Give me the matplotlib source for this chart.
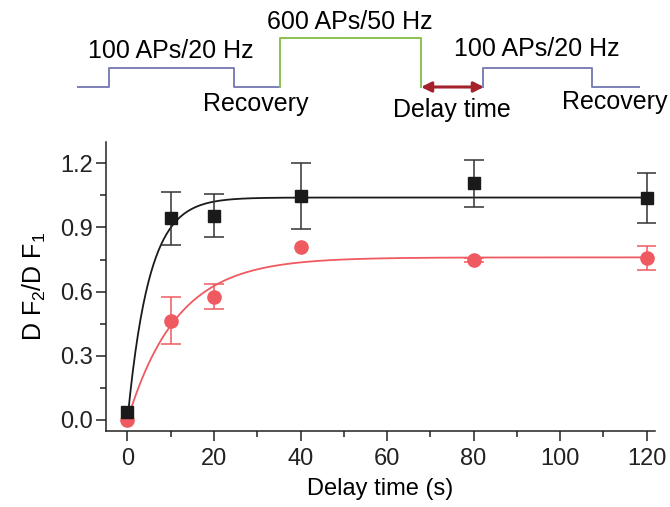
import numpy as np
import matplotlib
matplotlib.use("Agg")
import matplotlib.pyplot as plt

plt.rcParams['font.family'] = ['Liberation Sans', 'DejaVu Sans']
plt.rcParams['mathtext.fontset'] = 'custom'
plt.rcParams['mathtext.rm'] = 'Liberation Sans'
plt.rcParams['mathtext.it'] = 'Liberation Sans'

# data
delay = [0, 10, 20, 40, 80, 120]
black_y = [0.038, 0.943, 0.955, 1.048, 1.106, 1.040]
black_err = [0.0, 0.125, 0.100, 0.155, 0.110, 0.117]
red_y = [0.0, 0.463, 0.576, 0.807, 0.748, 0.758]
red_err = [0.0, 0.110, 0.058, 0.0, 0.008, 0.056]

# single exponential fits: A * (1 - exp(-t / tau))
black_amp, black_tau = 1.04, 5.0
red_amp, red_tau = 0.76, 11.5

xticks = [0, 20, 40, 60, 80, 100, 120]
yticks = [0.0, 0.3, 0.6, 0.9, 1.2]

# stimulus schematic (pixel coords of the figure)
pulse1_x = [78, 109, 109, 234, 234, 280]
pulse1_y = [87, 87, 68, 68, 87, 87]
pulse2_x = [280, 280, 421, 421]
pulse2_y = [87, 38, 38, 87]
pulse3_x = [483, 483, 592, 592, 639]
pulse3_y = [87, 68, 68, 87, 87]
labels = [("100 APs/20 Hz", 171, 51), ("600 APs/50 Hz", 350, 22),
          ("Recovery", 256, 104), ("Delay time", 452, 110),
          ("100 APs/20 Hz", 537, 49), ("Recovery", 615, 102)]

red = '#EF5A61'
blue = '#7C80B6'
green = '#8CC152'
darkred = '#A3222B'


def with_err(x, y, e):
    # only points that have a visible error bar
    keep = [i for i in range(len(x)) if e[i] > 0]
    return [x[i] for i in keep], [y[i] for i in keep], [e[i] for i in keep]


fig = plt.figure(figsize=(6.7, 5.07), dpi=100)

# schematic on top
top = fig.add_axes([0, 0, 1, 1])
top.set_xlim(0, 670)
top.set_ylim(507, 0)
top.axis('off')
top.plot(pulse1_x, pulse1_y, color=blue, lw=1.4)
top.plot(pulse2_x, pulse2_y, color=green, lw=1.4)
top.plot(pulse3_x, pulse3_y, color=blue, lw=1.4)
top.annotate('', xy=(421, 87), xytext=(484, 87),
             arrowprops=dict(arrowstyle='<|-|>', color=darkred, lw=2.2,
                             mutation_scale=15, shrinkA=0, shrinkB=0))
for txt, x, y in labels:
    top.text(x, y, txt, ha='center', va='center', fontsize=18)

ax = fig.add_axes([0.158, 0.150, 0.820, 0.570])
t = np.linspace(0, 120, 600)
ax.plot(t, black_amp * (1 - np.exp(-t / black_tau)), color='#1a1a1a', lw=1.3)
ax.plot(t, red_amp * (1 - np.exp(-t / red_tau)), color=red, lw=1.3)

bx, by, be = with_err(delay, black_y, black_err)
ax.errorbar(bx, by, yerr=be, fmt='none', ecolor='#333333', elinewidth=1.1,
            capsize=7, capthick=1.1, zorder=3)
rx, ry, re_ = with_err(delay, red_y, red_err)
ax.errorbar(rx, ry, yerr=re_, fmt='none', ecolor=red, elinewidth=1.1,
            capsize=7, capthick=1.1, zorder=3)
ax.plot(delay, red_y, 'o', color=red, markersize=9.5, zorder=4)
ax.plot(delay, black_y, 's', color='#1a1a1a', markersize=8, zorder=5)

ax.set_xlim(-5, 122)
ax.set_ylim(-0.052, 1.30)
ax.set_xticks(xticks)
ax.set_yticks(yticks)
ax.set_yticklabels([f'{v:.1f}' for v in yticks])
ax.set_xticks([10, 30, 50, 70, 90, 110], minor=True)
ax.set_yticks([0.15, 0.45, 0.75, 1.05], minor=True)
ax.spines['top'].set_visible(False)
ax.spines['right'].set_visible(False)
for s in ['left', 'bottom']:
    ax.spines[s].set_linewidth(1.1)
    ax.spines[s].set_color('#222222')
ax.tick_params(which='major', direction='out', length=7, width=1.1,
               labelsize=17, pad=5, colors='#222222')
ax.tick_params(which='minor', direction='out', length=4, width=1.1,
               colors='#222222')
ax.tick_params(axis='y', pad=2)
ax.set_xlabel('Delay time (s)', fontsize=17, labelpad=6)
ax.set_ylabel('D F$_2$/D F$_1$', fontsize=18, labelpad=9)

fig.savefig('out.png', dpi=100)
